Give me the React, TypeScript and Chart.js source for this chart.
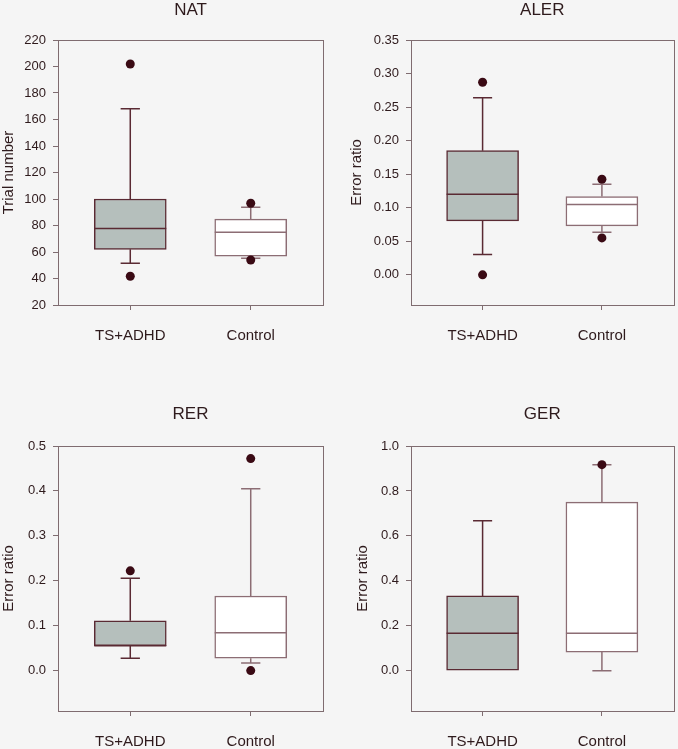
import React, { useEffect, useRef } from "react";
import { Chart, registerables } from "chart.js";

Chart.register(...registerables);

// ---------- data ----------
const categories = ["TS+ADHD", "Control"];

// NAT (trial number)
const natTicks = [20, 40, 60, 80, 100, 120, 140, 160, 180, 200, 220];
const natLowerWhisker = [51.5, 55.2];
const natQ1 = [62, 56.8];
const natMedian = [77.8, 75];
const natQ3 = [100, 84.8];
const natUpperWhisker = [168.2, 93.8];
const natOutliersHigh = [201.9, 96.8];
const natOutliersLow = [41.7, 54];

// ALER (error ratio)
const alerTicks = [0, 0.05, 0.1, 0.15, 0.2, 0.25, 0.3, 0.35];
const alerLowerWhisker = [0.0303, 0.0635];
const alerQ1 = [0.0804, 0.073];
const alerMedian = [0.12, 0.1048];
const alerQ3 = [0.185, 0.1167];
const alerUpperWhisker = [0.264, 0.135];
const alerOutliersHigh = [0.287, 0.1425];
const alerOutliersLow = [0.0, 0.055];

// RER (error ratio)
const rerTicks = [0, 0.1, 0.2, 0.3, 0.4, 0.5];
const rerLowerWhisker = [0.0275, 0.0171];
const rerQ1 = [0.0555, 0.0275];
const rerMedian = [0.0555, 0.0843];
const rerQ3 = [0.111, 0.166];
const rerUpperWhisker = [0.2056, 0.405];
const rerOutliersHigh = [0.222, 0.472];
const rerOutliersLow = [null, 0.0];

// GER (error ratio)
const gerTicks = [0, 0.2, 0.4, 0.6, 0.8, 1.0];
const gerLowerWhisker = [0, 0];
const gerQ1 = [0, 0.083];
const gerMedian = [0.167, 0.167];
const gerQ3 = [0.333, 0.75];
const gerUpperWhisker = [0.667, 0.917];
const gerOutliersHigh = [null, 0.917];
const gerOutliersLow = [null, null];

// ---------- styles ----------
const BG = "#f5f5f5";
const FRAME = "#7f6c70";
const TEXT = "#2e1a1c";
const FONT = "'Liberation Sans', Arial, sans-serif";
const BOX_FILL = ["#b5bfbc", "#ffffff"];
const BOX_EDGE = ["#5a2a33", "#8c6d74"];
const DOT = "#3a0a14";

type PanelCfg = {
  title: string;
  yLabel: string;
  ticks: number[];
  decimals: number;
  yMin: number;
  yMax: number;
  lower: number[];
  q1: number[];
  median: number[];
  q3: number[];
  upper: number[];
  outHigh: (number | null)[];
  outLow: (number | null)[];
  left: number;
  top: number;
  height: number;
  padLeft: number;
  padRight: number;
  padTop: number;
  yWidth: number;
  xHeight: number;
  titleGap: number;
};

const boxPlugin = {
  id: "boxWhiskers",
  beforeDatasetsDraw(chart: any, _a: any, opts: any) {
    const xs = chart.scales.x;
    const ys = chart.scales.y;
    const ctx = chart.ctx;
    ctx.save();
    categories.forEach((_, i) => {
      const cx = xs.getPixelForValue(i + 1);
      const half = Math.abs(xs.getPixelForValue(i + 1.08) - cx);
      ctx.strokeStyle = BOX_EDGE[i];
      ctx.lineWidth = 1.5;
      const segs: [number, number][] = [];
      if (opts.upper[i] > opts.q3[i]) segs.push([opts.q3[i], opts.upper[i]]);
      if (opts.lower[i] < opts.q1[i]) segs.push([opts.q1[i], opts.lower[i]]);
      segs.forEach(([a, b]) => {
        const ya = ys.getPixelForValue(a);
        const yb = ys.getPixelForValue(b);
        ctx.beginPath();
        ctx.moveTo(cx, ya);
        ctx.lineTo(cx, yb);
        ctx.moveTo(cx - half, yb);
        ctx.lineTo(cx + half, yb);
        ctx.stroke();
      });
    });
    ctx.restore();
  },
  afterDatasetsDraw(chart: any, _a: any, opts: any) {
    const xs = chart.scales.x;
    const ys = chart.scales.y;
    const ctx = chart.ctx;
    ctx.save();
    const meta = chart.getDatasetMeta(0);
    categories.forEach((_, i) => {
      const bar = meta.data[i];
      const w = bar.width;
      const cx = xs.getPixelForValue(i + 1);
      const y = ys.getPixelForValue(opts.median[i]);
      ctx.strokeStyle = BOX_EDGE[i];
      ctx.lineWidth = 1.5;
      ctx.beginPath();
      ctx.moveTo(cx - w / 2, y);
      ctx.lineTo(cx + w / 2, y);
      ctx.stroke();
    });
    const a = chart.chartArea;
    ctx.strokeStyle = FRAME;
    ctx.lineWidth = 1;
    ctx.strokeRect(Math.round(a.left) + 0.5, Math.round(a.top) + 0.5, Math.round(a.right - a.left), Math.round(a.bottom - a.top));
    ctx.restore();
  },
};

function Panel({ cfg }: { cfg: PanelCfg }) {
  const ref = useRef<HTMLCanvasElement>(null);
  useEffect(() => {
    if (!ref.current) return;
    const outliers: { x: number; y: number }[] = [];
    categories.forEach((_, i) => {
      if (cfg.outHigh[i] !== null) outliers.push({ x: i + 1, y: cfg.outHigh[i] as number });
      if (cfg.outLow[i] !== null) outliers.push({ x: i + 1, y: cfg.outLow[i] as number });
    });
    const chart = new Chart(ref.current, {
      type: "bar",
      data: {
        datasets: [
          {
            type: "bar",
            data: categories.map((_, i) => ({ x: i + 1, y: [cfg.q1[i], cfg.q3[i]] })) as any,
            backgroundColor: BOX_FILL,
            borderColor: BOX_EDGE,
            borderWidth: 1.5,
            borderSkipped: false,
            barThickness: 72,
            order: 2,
          } as any,
          {
            type: "scatter",
            data: outliers,
            pointRadius: 4.5,
            pointBackgroundColor: DOT,
            pointBorderColor: DOT,
            pointBorderWidth: 0,
            order: 1,
          } as any,
        ],
      },
      options: {
        animation: false,
        responsive: false,
        events: [],
        layout: {
          padding: { left: cfg.padLeft, right: cfg.padRight, top: cfg.padTop, bottom: 0 },
        },
        plugins: {
          legend: { display: false },
          tooltip: { enabled: false },
          title: {
            display: true,
            text: cfg.title,
            fullSize: false,
            color: TEXT,
            font: { family: FONT, size: 17, weight: "normal" },
            padding: { top: 0, bottom: cfg.titleGap },
          },
          boxWhiskers: {
            lower: cfg.lower,
            q1: cfg.q1,
            median: cfg.median,
            q3: cfg.q3,
            upper: cfg.upper,
          },
        } as any,
        scales: {
          x: {
            type: "linear",
            min: 0.4,
            max: 2.6,
            offset: false,
            afterBuildTicks: (s: any) => {
              s.ticks = categories.map((_, i) => ({ value: i + 1 }));
            },
            afterFit: (s: any) => {
              s.height = cfg.xHeight;
            },
            ticks: {
              callback: (v: any) => categories[Math.round(v) - 1] ?? "",
              color: TEXT,
              font: { family: FONT, size: 15 },
              padding: 17,
              maxRotation: 0,
              autoSkip: false,
            },
            grid: { display: true, offset: false, drawOnChartArea: false, drawTicks: true, tickLength: 5, color: FRAME },
            border: { display: true, color: FRAME },
          },
          y: {
            type: "linear",
            min: cfg.yMin,
            max: cfg.yMax,
            afterBuildTicks: (s: any) => {
              s.ticks = cfg.ticks.map((v) => ({ value: v }));
            },
            afterFit: (s: any) => {
              s.width = cfg.yWidth;
            },
            ticks: {
              callback: (v: any) => Number(v).toFixed(cfg.decimals),
              color: TEXT,
              font: { family: FONT, size: 13 },
              padding: 7,
              autoSkip: false,
            },
            title: {
              display: true,
              text: cfg.yLabel,
              color: TEXT,
              font: { family: FONT, size: 15 },
              padding: { top: 0, bottom: 0 },
            },
            grid: { display: true, drawOnChartArea: false, drawTicks: true, tickLength: 5, color: FRAME },
            border: { display: true, color: FRAME },
          },
        },
      },
      plugins: [boxPlugin],
    });
    return () => chart.destroy();
  }, [cfg]);
  return (
    <canvas
      ref={ref}
      width={339}
      height={cfg.height}
      style={{ position: "absolute", left: cfg.left, top: cfg.top, width: 339, height: cfg.height }}
    />
  );
}

const panels: PanelCfg[] = [
  {
    title: "NAT", yLabel: "Trial number", ticks: natTicks, decimals: 0, yMin: 20, yMax: 220,
    lower: natLowerWhisker, q1: natQ1, median: natMedian, q3: natQ3, upper: natUpperWhisker,
    outHigh: natOutliersHigh, outLow: natOutliersLow,
    left: 0, top: 0, height: 370, padLeft: 0, padRight: 16, padTop: 0, yWidth: 58, xHeight: 65, titleGap: 19.6,
  },
  {
    title: "ALER", yLabel: "Error ratio", ticks: alerTicks, decimals: 2, yMin: -0.045, yMax: 0.35,
    lower: alerLowerWhisker, q1: alerQ1, median: alerMedian, q3: alerQ3, upper: alerUpperWhisker,
    outHigh: alerOutliersHigh, outLow: alerOutliersLow,
    left: 339, top: 0, height: 370, padLeft: 9, padRight: 2, padTop: 0, yWidth: 63, xHeight: 65, titleGap: 19.6,
  },
  {
    title: "RER", yLabel: "Error ratio", ticks: rerTicks, decimals: 1, yMin: -0.09, yMax: 0.5,
    lower: rerLowerWhisker, q1: rerQ1, median: rerMedian, q3: rerQ3, upper: rerUpperWhisker,
    outHigh: rerOutliersHigh, outLow: rerOutliersLow,
    left: 0, top: 370, height: 379, padLeft: 0, padRight: 16, padTop: 34, yWidth: 58, xHeight: 38, titleGap: 21.6,
  },
  {
    title: "GER", yLabel: "Error ratio", ticks: gerTicks, decimals: 1, yMin: -0.179, yMax: 1.0,
    lower: gerLowerWhisker, q1: gerQ1, median: gerMedian, q3: gerQ3, upper: gerUpperWhisker,
    outHigh: gerOutliersHigh, outLow: gerOutliersLow,
    left: 339, top: 370, height: 379, padLeft: 15, padRight: 2, padTop: 34, yWidth: 57, xHeight: 38, titleGap: 21.6,
  },
];

export default function App() {
  return (
    <div style={{ position: "absolute", left: 0, top: 0, width: 678, height: 749, background: BG, overflow: "hidden" }}>
      {panels.map((p) => (
        <Panel key={p.title} cfg={p} />
      ))}
    </div>
  );
}
